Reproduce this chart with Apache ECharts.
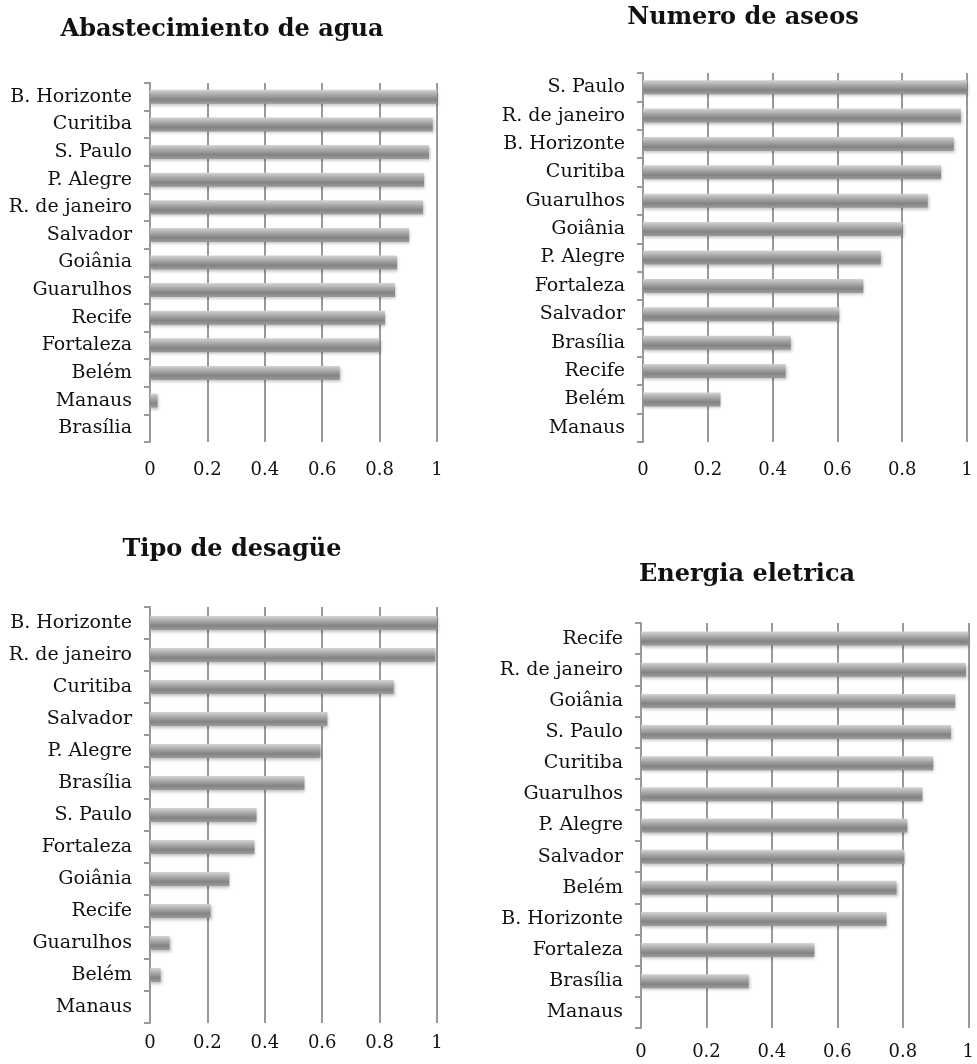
<!DOCTYPE html>
<html>
<head>
<meta charset="utf-8">
<script src="https://cdn.jsdelivr.net/npm/echarts@6/dist/echarts.min.js"></script>
<style>
  html, body { margin: 0; padding: 0; background: #fff; }
  #main { width: 977px; height: 1064px; }
</style>
</head>
<body>
<div id="main"></div>
<script>
  // 四个面板的数据
  var aguaCities = ["B. Horizonte", "Curitiba", "S. Paulo", "P. Alegre", "R. de janeiro", "Salvador", "Goiânia", "Guarulhos", "Recife", "Fortaleza", "Belém", "Manaus", "Brasília"];
  var aguaValues = [1.0, 0.985, 0.972, 0.955, 0.951, 0.903, 0.861, 0.854, 0.819, 0.800, 0.661, 0.026, 0];

  var aseosCities = ["S. Paulo", "R. de janeiro", "B. Horizonte", "Curitiba", "Guarulhos", "Goiânia", "P. Alegre", "Fortaleza", "Salvador", "Brasília", "Recife", "Belém", "Manaus"];
  var aseosValues = [1.0, 0.981, 0.959, 0.920, 0.879, 0.801, 0.734, 0.680, 0.606, 0.456, 0.440, 0.239, 0];

  var desagueCities = ["B. Horizonte", "R. de janeiro", "Curitiba", "Salvador", "P. Alegre", "Brasília", "S. Paulo", "Fortaleza", "Goiânia", "Recife", "Guarulhos", "Belém", "Manaus"];
  var desagueValues = [1.0, 0.994, 0.849, 0.618, 0.594, 0.538, 0.371, 0.364, 0.276, 0.211, 0.068, 0.037, 0];

  var energiaCities = ["Recife", "R. de janeiro", "Goiânia", "S. Paulo", "Curitiba", "Guarulhos", "P. Alegre", "Salvador", "Belém", "B. Horizonte", "Fortaleza", "Brasília", "Manaus"];
  var energiaValues = [1.0, 0.993, 0.960, 0.947, 0.893, 0.860, 0.814, 0.805, 0.781, 0.750, 0.530, 0.329, 0];

  var titles = ["Abastecimiento de agua", "Numero de aseos", "Tipo de desagüe", "Energia eletrica"];
  var xTicks = [0, 0.2, 0.4, 0.6, 0.8, 1];

  var panels = [
    { cats: aguaCities, vals: aguaValues, grid: { left: 150, top: 83, width: 287, height: 359 }, tx: 222, ty: 30, lm: 19 },
    { cats: aseosCities, vals: aseosValues, grid: { left: 643, top: 73, width: 324, height: 369 }, tx: 743, ty: 18, lm: 19 },
    { cats: desagueCities, vals: desagueValues, grid: { left: 150, top: 607, width: 287, height: 416 }, tx: 232, ty: 550, lm: 11 },
    { cats: energiaCities, vals: energiaValues, grid: { left: 641, top: 623, width: 330, height: 405 }, tx: 747, ty: 575, lm: 15 }
  ];

  var font = "DejaVu Serif";
  var gridColor = "#999";

  var barColor = new echarts.graphic.LinearGradient(0, 0, 0, 1, [
    { offset: 0, color: "#d4d4d4" },
    { offset: 0.35, color: "#a9a9a9" },
    { offset: 0.7, color: "#838383" },
    { offset: 1, color: "#9c9c9c" }
  ]);

  var option = { animation: false, grid: [], xAxis: [], yAxis: [], series: [], graphic: [] };

  panels.forEach(function (p, i) {
    option.grid.push({ left: p.grid.left, top: p.grid.top, width: p.grid.width, height: p.grid.height, containLabel: false });
    option.xAxis.push({
      type: "value",
      gridIndex: i,
      min: 0,
      max: 1,
      interval: 0.2,
      axisLine: { show: false },
      axisTick: { show: false },
      splitLine: { show: true, lineStyle: { color: gridColor, width: 2 } },
      axisLabel: {
        margin: p.lm,
        fontFamily: font,
        fontSize: 18,
        color: "#111",
        formatter: function (v) { return xTicks.indexOf(Math.round(v * 10) / 10) >= 0 ? String(Math.round(v * 10) / 10) : ""; }
      }
    });
    option.yAxis.push({
      type: "category",
      gridIndex: i,
      inverse: true,
      data: p.cats,
      axisLine: { show: true, lineStyle: { color: gridColor, width: 2 } },
      axisTick: { show: true, length: 6, lineStyle: { color: gridColor, width: 2 } },
      axisLabel: { margin: 18, fontFamily: font, fontSize: 19, color: "#111" }
    });
    option.series.push({
      type: "bar",
      xAxisIndex: i,
      yAxisIndex: i,
      data: p.vals,
      barWidth: 14,
      itemStyle: {
        color: barColor,
        shadowColor: "rgba(0,0,0,0.25)",
        shadowBlur: 3,
        shadowOffsetX: 1,
        shadowOffsetY: 2
      }
    });
    option.graphic.push({
      type: "text",
      x: p.tx,
      y: p.ty,
      style: {
        text: titles[i],
        fontFamily: font,
        fontWeight: "bold",
        fontSize: 24,
        fill: "#111",
        textAlign: "center",
        textVerticalAlign: "middle"
      }
    });
  });

  var chart = echarts.init(document.getElementById("main"));
  chart.setOption(option);
  window.addEventListener("resize", function () { chart.resize(); });
</script>
</body>
</html>
